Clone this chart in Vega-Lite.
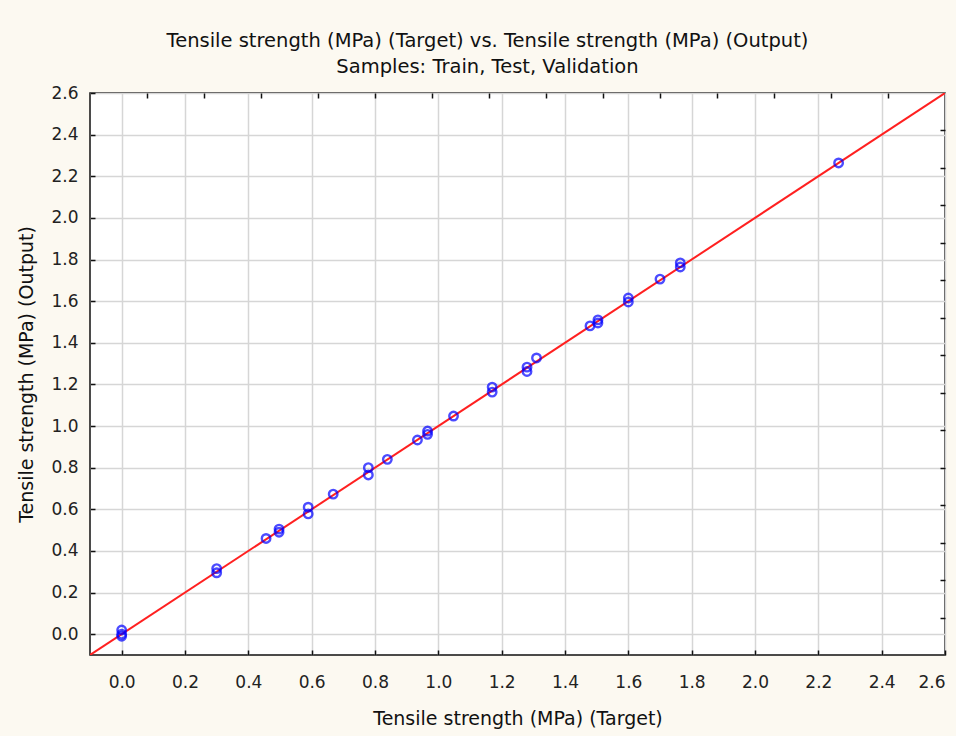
{
  "$schema": "https://vega.github.io/schema/vega-lite/v6.json",
  "width": 855,
  "height": 562,
  "autosize": {"type": "none"},
  "padding": {"left": 90, "top": 93, "right": 11, "bottom": 81},
  "background": "#fcf9f1",
  "title": {
    "text": ["Tensile strength (MPa) (Target) vs. Tensile strength (MPa) (Output)", "Samples: Train, Test, Validation"],
    "font": "DejaVu Sans",
    "fontSize": 19.5,
    "fontWeight": "normal",
    "color": "#111111",
    "lineHeight": 26,
    "offset": 7,
    "dx": -30,
    "anchor": "middle"
  },
  "config": {
    "view": {"fill": "white", "stroke": "#111111", "strokeWidth": 1.5},
    "axis": {
      "labelFont": "DejaVu Sans",
      "labelFontSize": 17,
      "labelColor": "#222222",
      "titleFont": "DejaVu Sans",
      "titleFontSize": 19,
      "titleFontWeight": "normal",
      "titleColor": "#111111",
      "gridColor": "#d6d6d6",
      "gridWidth": 1.5,
      "domain": false,
      "tickColor": "#111111",
      "tickSize": -5,
      "tickWidth": 1.5
    }
  },
  "datasets": {
    "pts": [
      {"target": 0.0, "output": 0.02},
      {"target": 0.0, "output": 0.0},
      {"target": 0.0, "output": -0.01},
      {"target": 0.30, "output": 0.315},
      {"target": 0.30, "output": 0.295},
      {"target": 0.456, "output": 0.46},
      {"target": 0.497, "output": 0.505},
      {"target": 0.497, "output": 0.49},
      {"target": 0.589, "output": 0.61},
      {"target": 0.589, "output": 0.578},
      {"target": 0.668, "output": 0.673},
      {"target": 0.779, "output": 0.80},
      {"target": 0.779, "output": 0.765},
      {"target": 0.839, "output": 0.84},
      {"target": 0.934, "output": 0.933},
      {"target": 0.966, "output": 0.976},
      {"target": 0.966, "output": 0.96},
      {"target": 1.048, "output": 1.048},
      {"target": 1.17, "output": 1.187},
      {"target": 1.17, "output": 1.163},
      {"target": 1.28, "output": 1.283},
      {"target": 1.28, "output": 1.262},
      {"target": 1.31, "output": 1.327},
      {"target": 1.479, "output": 1.481},
      {"target": 1.504, "output": 1.51},
      {"target": 1.504, "output": 1.495},
      {"target": 1.60, "output": 1.615},
      {"target": 1.60, "output": 1.596},
      {"target": 1.70, "output": 1.706},
      {"target": 1.764, "output": 1.784},
      {"target": 1.764, "output": 1.764},
      {"target": 2.264, "output": 2.264}
    ],
    "fit": [
      {"target": -0.1, "output": -0.1},
      {"target": 2.6, "output": 2.6}
    ]
  },
  "resolve": {"axis": {"x": "independent", "y": "independent"}},
  "layer": [
    {
      "data": {"name": "fit"},
      "mark": {"type": "line", "color": "#ff2020", "strokeWidth": 2, "clip": true},
      "encoding": {
        "x": {
          "field": "target", "type": "quantitative",
          "scale": {"domain": [-0.1, 2.6], "nice": false, "zero": false},
          "axis": {
            "orient": "bottom",
            "title": "Tensile strength (MPa) (Target)",
            "values": [0, 0.2, 0.4, 0.6, 0.8, 1.0, 1.2, 1.4, 1.6, 1.8, 2.0, 2.2, 2.4, 2.6],
            "format": ".1f",
            "labelPadding": 24,
            "titlePadding": 19
          }
        },
        "y": {
          "field": "output", "type": "quantitative",
          "scale": {"domain": [-0.1, 2.6], "nice": false, "zero": false},
          "axis": {
            "orient": "left",
            "title": "Tensile strength (MPa) (Output)",
            "values": [0, 0.2, 0.4, 0.6, 0.8, 1.0, 1.2, 1.4, 1.6, 1.8, 2.0, 2.2, 2.4, 2.6],
            "format": ".1f",
            "labelPadding": 17,
            "titlePadding": 14
          }
        }
      }
    },
    {
      "data": {"name": "pts"},
      "mark": {"type": "point", "shape": "circle", "filled": false, "color": "#0000ff", "size": 72, "strokeWidth": 2.4},
      "encoding": {
        "x": {
          "field": "target", "type": "quantitative",
          "axis": {
            "orient": "top", "title": null, "labels": false, "grid": false,
            "values": [0.08, 0.26, 0.44, 0.62, 0.8, 0.98, 1.16, 1.34, 1.52, 1.7, 1.88, 2.06, 2.24, 2.42]
          }
        },
        "y": {
          "field": "output", "type": "quantitative",
          "axis": {
            "orient": "right", "title": null, "labels": false, "grid": false,
            "values": [0.08, 0.26, 0.44, 0.62, 0.8, 0.98, 1.16, 1.34, 1.52, 1.7, 1.88, 2.06, 2.24, 2.42]
          }
        }
      }
    }
  ]
}
